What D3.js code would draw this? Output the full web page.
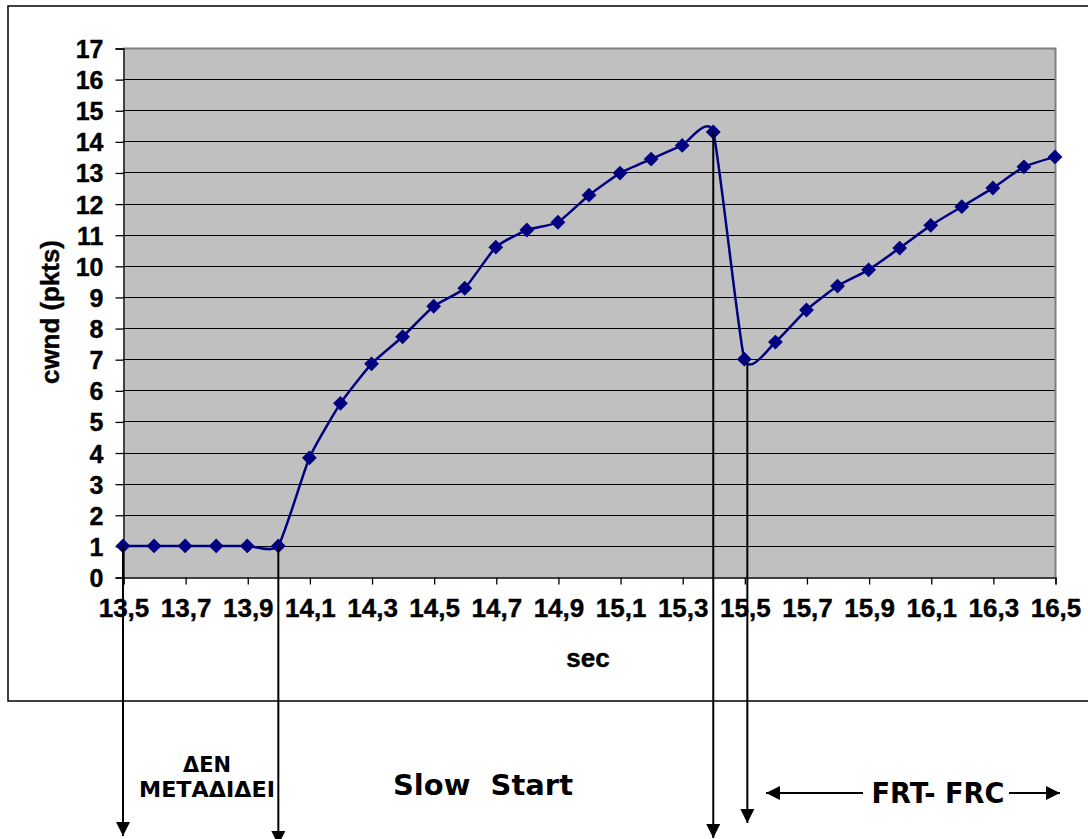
<!DOCTYPE html>
<html lang="el">

<head>
    <meta charset="UTF-8">
    <title>cwnd - sec</title>
    <style>
        body { margin: 0; background: #fff; }
        svg { display: block; }
        .tick text { font-family: "Liberation Sans", Arial, sans-serif; font-weight: bold; fill: #000; stroke: #000; stroke-width: 0.4px; }
        .title { font-family: "Liberation Sans", Arial, sans-serif; font-weight: bold; fill: #000; stroke: #000; stroke-width: 0.4px; }
        .note { font-family: "DejaVu Sans", Verdana, sans-serif; font-weight: bold; fill: #000; white-space: pre; }
    </style>
</head>

<body>
    <div id="my_dataviz"></div>

    <script src="https://d3js.org/d3.v7.min.js"></script>
    <script>

        // data
        var secs = [13.5, 13.6, 13.7, 13.8, 13.9, 14.0, 14.1, 14.2, 14.3, 14.4, 14.5,
                    14.6, 14.7, 14.8, 14.9, 15.0, 15.1, 15.2, 15.3, 15.4, 15.5,
                    15.6, 15.7, 15.8, 15.9, 16.0, 16.1, 16.2, 16.3, 16.4, 16.5];
        var cwnd = [1, 1, 1, 1, 1, 1, 3.83, 5.58, 6.85, 7.72, 8.7,
                    9.28, 10.6, 11.15, 11.4, 12.27, 12.98, 13.43, 13.87, 14.3, 7.0,
                    7.55, 8.58, 9.35, 9.87, 10.57, 11.3, 11.9, 12.5, 13.18, 13.5];
        var xTickValues = [13.5, 13.7, 13.9, 14.1, 14.3, 14.5, 14.7, 14.9, 15.1, 15.3, 15.5, 15.7, 15.9, 16.1, 16.3, 16.5];
        var xTickLabels = ["13,5", "13,7", "13,9", "14,1", "14,3", "14,5", "14,7", "14,9", "15,1", "15,3", "15,5", "15,7", "15,9", "16,1", "16,3", "16,5"];
        var yTicks = [0, 1, 2, 3, 4, 5, 6, 7, 8, 9, 10, 11, 12, 13, 14, 15, 16, 17];

        // annotation marks
        var downArrowsAt = [13.5, 14.0, 15.4, 15.5];
        var phaseLabel = "Slow  Start";
        var idleLabel = ["ΔΕΝ", "ΜΕΤΑΔΙΔΕΙ"];
        var fastLabel = "FRT- FRC";

        var W = 1088, H = 839;
        var plot = {left: 123, right: 1055, top: 48, bottom: 577};

        var svg = d3.select("#my_dataviz")
          .append("svg")
            .attr("width", W)
            .attr("height", H);

        var defs = svg.append("defs");
        defs.append("marker")
            .attr("id", "head")
            .attr("viewBox", "0 0 10 10")
            .attr("refX", 10).attr("refY", 5)
            .attr("markerUnits", "userSpaceOnUse")
            .attr("markerWidth", 15).attr("markerHeight", 14)
            .attr("orient", "auto")
          .append("path")
            .attr("d", "M0,0L10,5L0,10Z")
            .attr("fill", "#000");

        // outer chart frame
        svg.append("rect")
            .attr("x", 8).attr("y", 6)
            .attr("width", 1100).attr("height", 695)
            .attr("fill", "none")
            .attr("stroke", "#000")
            .attr("stroke-width", 1.5);

        var x = d3.scaleLinear()
            .domain([13.5, 16.5])
            .range([plot.left, plot.right]);
        var y = d3.scaleLinear()
            .domain([0, 17])
            .range([plot.bottom, plot.top]);

        // plot background
        svg.append("rect")
            .attr("x", plot.left).attr("y", plot.top)
            .attr("width", plot.right - plot.left)
            .attr("height", plot.bottom - plot.top)
            .attr("fill", "#c0c0c0");

        // gridlines
        svg.append("g")
            .selectAll("line")
            .data(yTicks.filter(function(d) { return d > 0 && d < 17; }))
            .enter().append("line")
              .attr("x1", plot.left).attr("x2", plot.right)
              .attr("y1", function(d) { return Math.round(y(d)) + 0.5; })
              .attr("y2", function(d) { return Math.round(y(d)) + 0.5; })
              .attr("stroke", "#000")
              .attr("stroke-width", 1);

        // gray border top / right
        svg.append("path")
            .attr("d", "M" + plot.left + "," + (plot.top + 0.5) + "H" + (plot.right + 0.5) + "V" + plot.bottom)
            .attr("fill", "none")
            .attr("stroke", "#808080")
            .attr("stroke-width", 2);

        // Y axis
        var yAxis = svg.append("g")
            .attr("transform", "translate(" + (plot.left + 0.5) + ",0.5)")
            .call(d3.axisLeft(y).tickValues(yTicks).tickSize(8).tickPadding(12).tickFormat(d3.format("d")));
        yAxis.selectAll("text").style("font-size", "25px").attr("dy", "0.36em");
        yAxis.selectAll("line, path").attr("stroke", "#000").attr("stroke-width", 1.3);

        // X axis
        var xAxis = svg.append("g")
            .attr("transform", "translate(0.5," + (plot.bottom + 0.5) + ")")
            .call(d3.axisBottom(x).tickValues(xTickValues).tickSize(7).tickPadding(15)
                .tickFormat(function(d, i) { return xTickLabels[i]; }));
        xAxis.selectAll("text").style("font-size", "26px").attr("dy", "0.68em");
        xAxis.selectAll("line, path").attr("stroke", "#000").attr("stroke-width", 1.3);

        // axis titles
        svg.append("text")
            .attr("class", "title")
            .attr("x", 588)
            .attr("y", 667)
            .attr("text-anchor", "middle")
            .style("font-size", "26px")
            .text("sec");
        svg.append("text")
            .attr("class", "title")
            .attr("transform", "translate(59," + 312 + ") rotate(-90)")
            .attr("text-anchor", "middle")
            .attr("textLength", 144)
            .attr("lengthAdjust", "spacingAndGlyphs")
            .style("font-size", "25px")
            .text("cwnd (pkts)");

        var pts = secs.map(function(s, i) { return {sec: s, cwnd: cwnd[i]}; });

        // smoothed line
        svg.append("path")
            .datum(pts)
            .attr("fill", "none")
            .attr("stroke", "#000080")
            .attr("stroke-width", 2.5)
            .attr("d", d3.line()
              .curve(d3.curveCardinal.tension(0.5))
              .x(function(d) { return x(d.sec); })
              .y(function(d) { return y(d.cwnd); }));

        // diamond markers
        svg.append("g")
            .selectAll("path")
            .data(pts)
            .enter().append("path")
              .attr("d", d3.symbol().type(d3.symbolSquare).size(110))
              .attr("transform", function(d) { return "translate(" + x(d.sec) + "," + y(d.cwnd) + ") rotate(45)"; })
              .attr("fill", "#000080");

        // vertical arrows going down from the points
        var arrowEnd = {13.5: 836, 14.0: 845, 15.4: 838, 15.5: 823};
        var arrowShift = {13.5: 0, 14.0: 0, 15.4: 0, 15.5: 3};
        svg.append("g")
            .selectAll("line")
            .data(downArrowsAt)
            .enter().append("line")
              .attr("x1", function(d) { return x(d) + arrowShift[d]; })
              .attr("x2", function(d) { return x(d) + arrowShift[d]; })
              .attr("y1", function(d) { return y(cwnd[secs.indexOf(d)]) + (arrowShift[d] ? 3 : 0); })
              .attr("y2", function(d) { return arrowEnd[d]; })
              .attr("stroke", "#000")
              .attr("stroke-width", 2)
              .attr("marker-end", "url(#head)");

        // texts below the chart
        var idle = svg.append("text")
            .attr("class", "note")
            .attr("text-anchor", "middle")
            .style("font-size", "21px");
        idle.selectAll("tspan")
            .data(idleLabel)
            .enter().append("tspan")
              .attr("x", 207)
              .attr("y", function(d, i) { return 772 + i * 25; })
              .text(function(d) { return d; });
        idle.select("tspan:first-child")
            .attr("textLength", 48)
            .attr("lengthAdjust", "spacingAndGlyphs");
        idle.select("tspan:last-child")
            .attr("textLength", 136)
            .attr("lengthAdjust", "spacingAndGlyphs");

        svg.append("text")
            .attr("class", "note")
            .attr("x", 483).attr("y", 795)
            .attr("text-anchor", "middle")
            .attr("textLength", 180)
            .attr("lengthAdjust", "spacingAndGlyphs")
            .style("font-size", "28px")
            .text(phaseLabel);

        svg.append("text")
            .attr("class", "note")
            .attr("x", 938).attr("y", 803)
            .attr("text-anchor", "middle")
            .attr("textLength", 133)
            .attr("lengthAdjust", "spacingAndGlyphs")
            .style("font-size", "28px")
            .text(fastLabel);

        // horizontal arrows around FRT- FRC
        svg.append("line")
            .attr("x1", 863).attr("x2", 766)
            .attr("y1", 793).attr("y2", 793)
            .attr("stroke", "#000").attr("stroke-width", 2)
            .attr("marker-end", "url(#head)");
        svg.append("line")
            .attr("x1", 1009).attr("x2", 1060)
            .attr("y1", 793).attr("y2", 793)
            .attr("stroke", "#000").attr("stroke-width", 2)
            .attr("marker-end", "url(#head)");

    </script>

</body>

</html>
